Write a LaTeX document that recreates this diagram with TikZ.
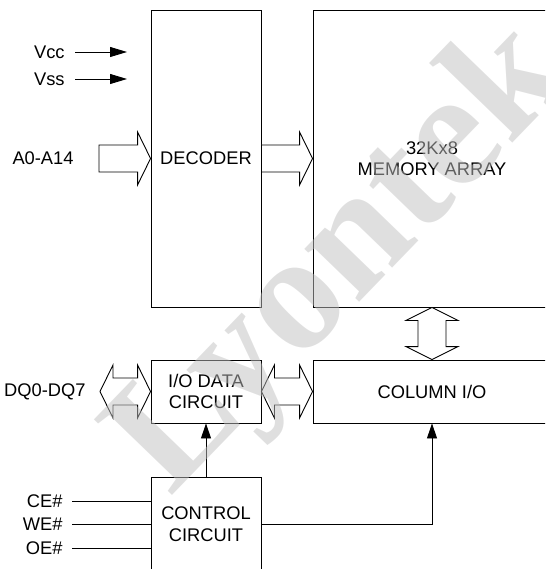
\documentclass[tikz,border=0pt]{standalone}
\usepackage{fontspec}
\setmainfont{Liberation Sans}
\newfontfamily\wmfont{Liberation Serif}
\usetikzlibrary{arrows.meta, positioning, calc}
\definecolor{wmgray}{HTML}{C0C0C0}
\newcommand{\fatR}[2]{%
  \draw[fat] ($(#1)+(0,-13.5)$) -- ($(#2)+(-13,-13.5)$) -- ($(#2)+(-13,-26.5)$) -- (#2)
    -- ($(#2)+(-13,26.5)$) -- ($(#2)+(-13,13.5)$) -- ($(#1)+(0,13.5)$) -- cycle;}
\newcommand{\fatLR}[2]{%
  \draw[fat] (#1) -- ($(#1)+(13,-26.5)$) -- ($(#1)+(13,-13.5)$) -- ($(#2)+(-13,-13.5)$)
    -- ($(#2)+(-13,-26.5)$) -- (#2) -- ($(#2)+(-13,26.5)$) -- ($(#2)+(-13,13.5)$)
    -- ($(#1)+(13,13.5)$) -- ($(#1)+(13,26.5)$) -- cycle;}
\newcommand{\fatUD}[2]{%
  \draw[fat] (#1) -- ($(#1)+(26,13)$) -- ($(#1)+(14,13)$) -- ($(#2)+(14,-13)$)
    -- ($(#2)+(26,-13)$) -- (#2) -- ($(#2)+(-26,-13)$) -- ($(#2)+(-14,-13)$)
    -- ($(#1)+(-14,13)$) -- ($(#1)+(-26,13)$) -- cycle;}

\begin{document}
\begin{tikzpicture}[x=1pt, y=-1pt, line width=0.9pt,
    font=\fontsize{18.3}{21.5}\selectfont,
    block/.style={draw, minimum width=110pt, align=center, inner sep=0pt},
    sig/.style={inner sep=0pt, anchor=east},
    fat/.style={draw, fill=white, line join=miter},
    tip/.style={-{Triangle[length=15pt,width=10pt]}}]
  \useasboundingbox (0,0) rectangle (545,569);
  \clip (0,0) rectangle (545,569);

  \node[block, minimum height=297pt] (dec) at (206,158.5) {DECODER};
  \node[block, minimum width=238pt, minimum height=297pt] (mem) at (432,158.5) {32Kx8\\MEMORY ARRAY};
  \node[block, minimum height=63pt] (iod) at (206,391.5) {I/O DATA\\CIRCUIT};
  \node[block, minimum width=238pt, minimum height=63pt] (col) at (432,391.5) {COLUMN I/O};
  \node[block, minimum height=94pt] (ctrl) at (206,524) {CONTROL\\CIRCUIT};

  \node[sig] (vcc) at (65,52) {Vcc};
  \node[sig] (vss) at (65,79) {Vss};
  \node[sig] (addr) at (74,158.5) {A0-A14};
  \node[sig] (dq) at (86,391.5) {DQ0-DQ7};
  \node[sig] (ce) at (63,501) {CE\#};
  \node[sig] (we) at (63,524) {WE\#};
  \node[sig] (oe) at (63,548) {OE\#};

  \coordinate (vcctip) at (127,52);
  \coordinate (vsstip) at (127,79);
  \coordinate (addrtail) at (99,158.5);
  \coordinate (dqtip) at (100,391.5);

  \draw[-{Triangle[length=17pt,width=10pt]}] ($(vcc.east)+(10,0)$) -- (vcctip);
  \draw[-{Triangle[length=17pt,width=10pt]}] ($(vss.east)+(10,0)$) -- (vsstip);
  \fatR{addrtail}{dec.west}
  \fatR{dec.east}{mem.west}
  \fatLR{dqtip}{iod.west}
  \fatLR{iod.east}{col.west}
  \fatUD{mem.south}{col.north}
  \draw[tip] (ctrl.north) -- (iod.south);
  \draw[tip] (ctrl.east) -| (col.south);
  \foreach \s in {ce,we,oe}
    \draw ($(\s.east)+(9,0)$) -- (\s.east -| ctrl.west);

  \node[rotate=46, anchor=base west, inner sep=0pt, text=wmgray, opacity=0.5,
        font=\wmfont\bfseries\fontsize{166}{166}\selectfont] (wm) at (170,498) {Lyontek};
\end{tikzpicture}
\end{document}
